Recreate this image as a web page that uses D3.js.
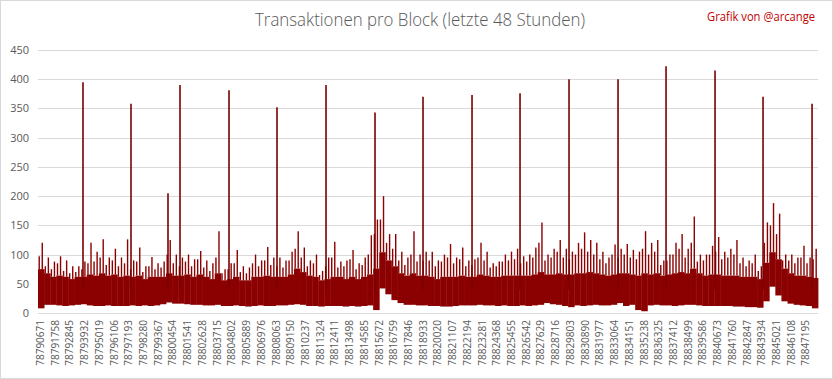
<!DOCTYPE html>
<html>
<head>
<meta charset="utf-8">
<script src="https://cdn.jsdelivr.net/npm/d3@7"></script>
<style>
  html, body { margin: 0; padding: 0; background: #fff; }
  svg { display: block; }
</style>
</head>
<body>
<svg id="chart" width="833" height="379"></svg>
<script>
// ---- data ----
const blockStart = 78790671;
const blockCount = 57600;
const binSize = 450;
const xLabelBlocks = [78790671,78791758,78792845,78793932,78795019,78796106,78797193,78798280,78799367,78800454,
  78801541,78802628,78803715,78804802,78805889,78806976,78808063,78809150,78810237,78811324,78812411,78813498,
  78814585,78815672,78816759,78817846,78818933,78820020,78821107,78822194,78823281,78824368,78825455,78826542,
  78827629,78828716,78829803,78830890,78831977,78833064,78834151,78835238,78836325,78837412,78838499,78839586,
  78840673,78841760,78842847,78843934,78845021,78846108,78847195];
const yTicks = [0,50,100,150,200,250,300,350,400,450];

// per-bin (450 blocks): max transactions, second-highest block, typical upper level, minimum
const binPeak = [120,95,88,97,90,80,80,88,120,105,126,95,110,95,126,90,112,80,96,85,
  88,125,100,95,100,92,106,90,85,140,75,85,108,80,78,100,90,113,95,95,
  90,105,140,112,90,100,72,95,122,88,90,108,85,95,133,160,200,135,135,105,
  95,140,100,105,105,90,100,118,95,112,90,92,120,105,85,88,100,105,110,97,
  100,112,155,100,110,125,110,105,120,138,125,120,105,95,117,110,118,108,105,140,
  120,125,90,100,120,135,110,165,100,100,115,130,105,110,125,95,90,100,80,155,
  188,170,100,100,95,115,95,110];
const binSecond = [97,80,75,85,72,68,70,75,85,88,95,82,90,80,85,75,88,70,80,75,
  78,100,85,80,88,80,92,78,72,95,68,75,85,70,68,85,80,90,82,80,
  78,90,110,95,80,85,65,80,95,78,80,92,75,82,100,135,160,120,110,90,
  82,100,88,90,90,80,88,95,85,92,80,82,95,90,78,80,88,90,92,85,
  88,95,120,90,95,105,95,92,100,110,105,100,92,85,100,95,100,95,92,110,
  100,105,82,90,100,110,95,120,88,90,100,105,92,95,100,85,80,85,72,120,
  150,135,90,90,85,95,85,92];
const binBody = [75,68,62,64,62,58,62,62,66,64,68,64,66,62,64,62,64,58,62,62,
  62,68,64,64,66,62,66,62,58,68,56,58,62,56,56,62,62,64,62,62,
  62,66,76,70,64,62,56,58,62,62,58,62,58,62,66,76,104,90,80,68,
  64,68,64,64,62,58,62,62,62,64,62,62,66,64,62,62,64,64,64,64,
  64,66,70,66,66,68,66,66,68,68,70,68,66,64,66,68,68,66,64,68,
  66,68,64,66,68,70,68,76,68,64,66,66,64,64,64,62,62,62,58,86,
  104,92,76,68,64,64,62,60];
const binLow = [8,14,14,13,12,13,14,15,13,12,12,13,12,12,12,13,12,13,12,13,
  15,18,16,16,15,14,14,13,13,14,12,12,13,12,11,12,13,12,12,13,
  13,14,15,14,12,12,11,12,12,12,11,12,11,12,13,5,42,32,22,17,
  14,14,13,13,12,12,11,11,12,13,13,13,14,13,13,12,13,12,12,13,
  12,13,14,17,15,14,12,10,13,12,13,14,13,13,14,17,12,14,5,3,
  13,14,13,13,12,13,14,14,13,12,12,12,12,12,11,11,10,10,9,20,
  45,30,20,16,14,13,12,8];

// periodic large blocks
const spikeBlocks = [78793994,78797539,78800271,78801158,78804776,78808321,78811940,78815558,78819103,
  78822722,78826267,78829885,78833504,78837049,78840667,78844212,78847831];
const spikeValues = [395,358,205,390,381,352,390,343,370,373,376,400,400,422,415,370,358];

// ---- chart ----
const W = 833, H = 379;
const svg = d3.select("#chart");
const plot = {left: 38, right: 818, top: 50, bottom: 313};
const color = "#8B0000";
const textColor = "#595959";

svg.append("rect").attr("x", 0.5).attr("y", 0.5).attr("width", W - 1).attr("height", H - 1)
  .attr("fill", "#fff").attr("stroke", "#d9d9d9");

const x = d3.scaleLinear().domain([blockStart, blockStart + blockCount]).range([plot.left, plot.right]);
const y = d3.scaleLinear().domain([0, 450]).range([plot.bottom, plot.top]);

// gridlines
svg.append("g").selectAll("line").data(yTicks).join("line")
  .attr("x1", plot.left).attr("x2", plot.right)
  .attr("y1", d => Math.round(y(d)) + 0.5).attr("y2", d => Math.round(y(d)) + 0.5)
  .attr("stroke", "#d9d9d9").attr("stroke-width", 1);

// y axis
const yAxis = svg.append("g").attr("transform", `translate(${plot.left - 9},0)`)
  .call(d3.axisLeft(y).tickValues(yTicks).tickSize(0).tickPadding(0));
yAxis.select(".domain").remove();
yAxis.selectAll("text").attr("fill", textColor).style("font-family", "'Open Sans', 'Noto Sans', sans-serif")
  .style("font-size", "11px");

// x axis
const xAxis = svg.append("g").attr("transform", `translate(0,${plot.bottom})`)
  .call(d3.axisBottom(x).tickValues(xLabelBlocks).tickSize(0).tickFormat(d3.format("d")));
xAxis.select(".domain").remove();
xAxis.selectAll("text")
  .attr("fill", textColor)
  .style("font-family", "'Open Sans', 'Noto Sans', sans-serif")
  .style("font-size", "10px")
  .attr("text-anchor", "end")
  .attr("transform", "rotate(-90)")
  .attr("x", -7).attr("y", 2).attr("dy", "0.35em");

// series
const bins = binPeak.map((p, i) => ({
  start: blockStart + i * binSize, peak: p, second: binSecond[i], body: binBody[i], low: binLow[i]
}));
const series = svg.append("g");
series.selectAll("rect.core").data(bins).join("rect").attr("class", "core")
  .attr("x", d => x(d.start))
  .attr("width", d => x(d.start + binSize) - x(d.start) + 0.4)
  .attr("y", d => y(d.body))
  .attr("height", d => y(d.low) - y(d.body))
  .attr("fill", color);
series.selectAll("line.second").data(bins).join("line").attr("class", "second")
  .attr("x1", d => x(d.start + binSize * 0.2)).attr("x2", d => x(d.start + binSize * 0.2))
  .attr("y1", d => y(d.body)).attr("y2", d => y(d.second))
  .attr("stroke", color).attr("stroke-width", 1.4);
series.selectAll("line.peak").data(bins).join("line").attr("class", "peak")
  .attr("x1", d => x(d.start + binSize * 0.7)).attr("x2", d => x(d.start + binSize * 0.7))
  .attr("y1", d => y(d.body)).attr("y2", d => y(d.peak))
  .attr("stroke", color).attr("stroke-width", 1.4);
series.selectAll("line.spike").data(spikeBlocks).join("line").attr("class", "spike")
  .attr("x1", d => x(d)).attr("x2", d => x(d))
  .attr("y1", y(40)).attr("y2", (d, i) => y(spikeValues[i]))
  .attr("stroke", "#7a0000").attr("stroke-width", 1.6);

// title
svg.append("text").attr("x", 420).attr("y", 26).attr("text-anchor", "middle")
  .attr("fill", textColor).style("font-family", "'Open Sans', 'Noto Sans', sans-serif")
  .style("font-size", "18px").style("font-weight", 300)
  .attr("textLength", 330).attr("lengthAdjust", "spacingAndGlyphs")
  .text("Transaktionen pro Block (letzte 48 Stunden)");

svg.append("text").attr("x", 815).attr("y", 21).attr("text-anchor", "end")
  .attr("fill", "#C00000").style("font-family", "'Open Sans', 'Noto Sans', sans-serif")
  .style("font-size", "12px")
  .attr("textLength", 108).attr("lengthAdjust", "spacingAndGlyphs")
  .text("Grafik von @arcange");
</script>
</body>
</html>
